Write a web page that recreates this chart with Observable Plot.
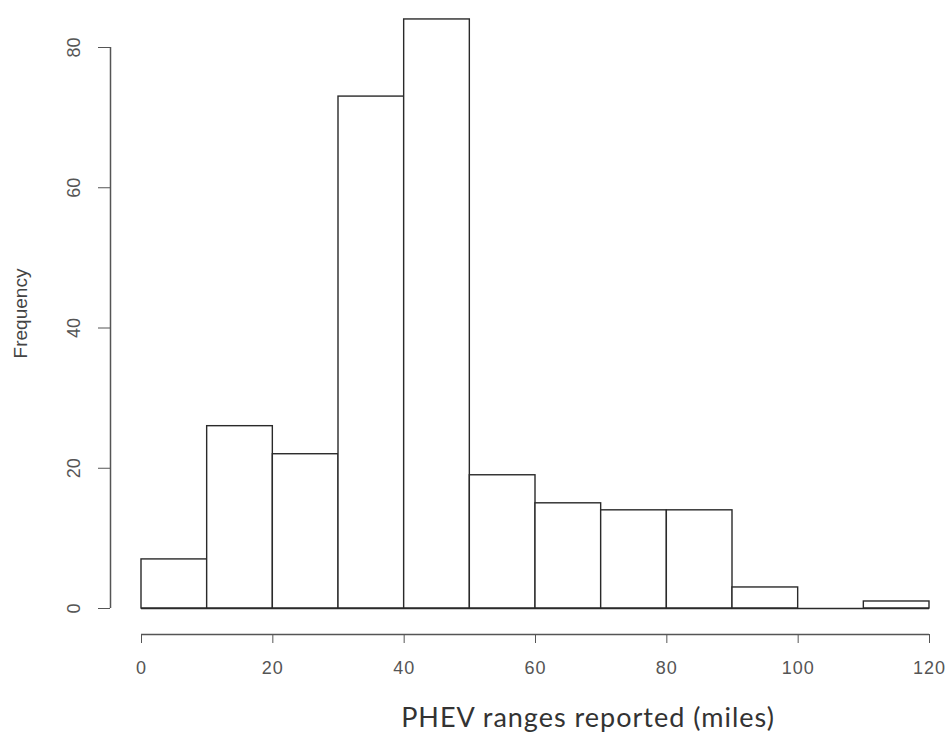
<!DOCTYPE html>
<html>
<head>
<meta charset="utf-8">
<script src="https://cdn.jsdelivr.net/npm/d3@7"></script>
<script src="https://cdn.jsdelivr.net/npm/@observablehq/plot@0.6"></script>
<style>
  html, body { margin: 0; padding: 0; background: #fff; }
  svg { display: block; }
  .xlab text { letter-spacing: 1px; }
  .xticks text { letter-spacing: 1px; }
</style>
</head>
<body>
<div id="chart"></div>
<script>
const binStarts = [0, 10, 20, 30, 40, 50, 60, 70, 80, 90, 100, 110];
const binWidth = 10;
const counts = [7, 26, 22, 73, 84, 19, 15, 14, 14, 3, 0, 1];
const xTicks = [0, 20, 40, 60, 80, 100, 120];
const yTicks = [0, 20, 40, 60, 80];
const xLabel = "PHEV ranges reported (miles)";
const yLabel = "Frequency";

const bins = binStarts.map((s, i) => ({x1: s, x2: s + binWidth, n: counts[i]}));

const axisColor = "#555";
const chart = Plot.plot({
  width: 952,
  height: 738,
  marginLeft: 110,
  marginRight: 23,
  marginTop: 0,
  marginBottom: 104,
  style: {background: "#fff", overflow: "visible"},
  x: {domain: [0, 120], range: [141, 929]},
  y: {domain: [0, 80], range: [608, 47]},
  marks: [
    Plot.rectY(bins, {x1: "x1", x2: "x2", y1: 0, y2: "n", fill: "#fff", stroke: "#2a2a2a", strokeWidth: 1.4, inset: 0}),
    Plot.ruleY([0], {x1: 0, x2: 120, stroke: "#2a2a2a", strokeWidth: 1.4}),
    // y axis
    Plot.ruleX([0], {y1: 0, y2: 80, dx: -31, stroke: axisColor, strokeWidth: 1.5}),
    Plot.axisY({ticks: yTicks, tickSize: 12, tickRotate: -90, tickPadding: 19, stroke: axisColor, color: "#555",
      fontSize: 18, fontFamily: "Liberation Sans, Arial, sans-serif", label: null, tickFormat: d => String(d)}),
    // x axis
    Plot.ruleY([0], {x1: 0, x2: 120, dy: 26, stroke: axisColor, strokeWidth: 1.5}),
    Plot.axisX({ticks: xTicks, tickSize: 9, tickPadding: 18, stroke: axisColor, color: "#555", className: "xticks",
      fontSize: 18, fontFamily: "Liberation Sans, Arial, sans-serif", label: null, tickFormat: d => String(d)}),
    Plot.text([xLabel], {frameAnchor: "bottom", dx: 68, dy: 84, fontSize: 27, fill: "#333", className: "xlab",
      fontFamily: "Lato, 'Noto Sans', sans-serif", lineAnchor: "middle", textAnchor: "middle"}),
    Plot.text([yLabel], {frameAnchor: "left", dx: -90, dy: -4, rotate: -90, fontSize: 19, fill: "#444",
      fontFamily: "Liberation Sans, Arial, sans-serif", lineAnchor: "middle", textAnchor: "middle"})
  ]
});
document.getElementById("chart").appendChild(chart);
</script>
</body>
</html>
